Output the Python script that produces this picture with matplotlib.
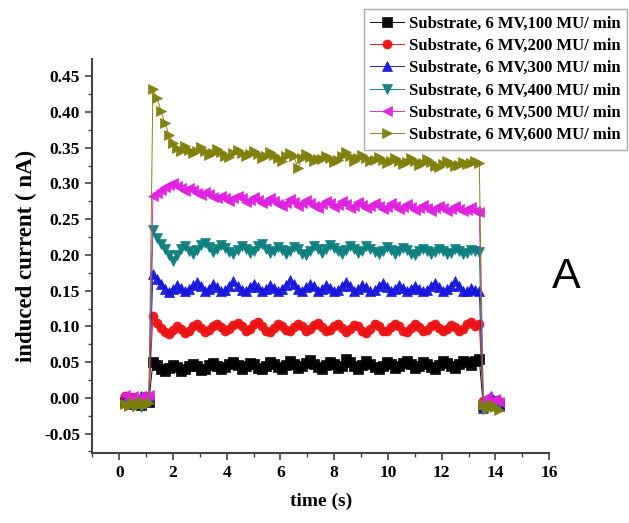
import numpy as np
import matplotlib
matplotlib.use("Agg")
import matplotlib.pyplot as plt
from matplotlib.ticker import MultipleLocator

plt.rcParams['font.family'] = ['Liberation Serif', 'DejaVu Serif']
plt.rcParams['font.weight'] = 'bold'

# sampling times (s): before beam-on, beam-on plateau, after beam-off
t_pre = [0.2, 0.35, 0.5, 0.65, 0.8, 0.95, 1.1]
t_on = np.round(1.25 + 0.15 * np.arange(82), 2)
t_post = [13.55, 13.7, 13.85, 14.0, 14.15]

labels = ["Substrate, 6 MV,100 MU/ min", "Substrate, 6 MV,200 MU/ min",
          "Substrate, 6 MV,300 MU/ min", "Substrate, 6 MV,400 MU/ min",
          "Substrate, 6 MV,500 MU/ min", "Substrate, 6 MV,600 MU/ min"]

# induced current (nA)
pre_100 = [-0.006, -0.002, -0.008, -0.004, -0.010, -0.003, -0.006]
on_100 = [0.050, 0.046, 0.040, 0.037, 0.042, 0.046, 0.043, 0.038, 0.040, 0.045,
          0.048, 0.044, 0.039, 0.041, 0.046, 0.049, 0.045, 0.040, 0.043, 0.048,
          0.050, 0.046, 0.041, 0.044, 0.049, 0.047, 0.042, 0.040, 0.045, 0.050,
          0.048, 0.043, 0.041, 0.046, 0.051, 0.047, 0.042, 0.044, 0.049, 0.053,
          0.048, 0.043, 0.041, 0.046, 0.050, 0.047, 0.042, 0.045, 0.055, 0.050,
          0.044, 0.041, 0.046, 0.051, 0.048, 0.043, 0.040, 0.045, 0.050, 0.047,
          0.042, 0.044, 0.049, 0.052, 0.047, 0.042, 0.045, 0.050, 0.048, 0.043,
          0.041, 0.046, 0.051, 0.049, 0.044, 0.042, 0.047, 0.052, 0.050, 0.046,
          0.051, 0.054]
post_100 = [-0.012, -0.006, -0.009, -0.004, -0.010]

pre_200 = [0.002, -0.004, 0.001, -0.006, -0.002, 0.003, -0.003]
on_200 = [0.115, 0.105, 0.098, 0.092, 0.090, 0.095, 0.100, 0.097, 0.091, 0.094,
          0.100, 0.103, 0.098, 0.092, 0.095, 0.101, 0.104, 0.099, 0.093, 0.096,
          0.102, 0.105, 0.100, 0.094, 0.097, 0.103, 0.106, 0.100, 0.094, 0.092,
          0.098, 0.104, 0.101, 0.095, 0.093, 0.099, 0.104, 0.100, 0.094, 0.096,
          0.102, 0.105, 0.099, 0.093, 0.095, 0.101, 0.104, 0.098, 0.092, 0.096,
          0.102, 0.100, 0.094, 0.091, 0.097, 0.103, 0.100, 0.094, 0.093, 0.099,
          0.104, 0.100, 0.094, 0.092, 0.098, 0.103, 0.099, 0.093, 0.095, 0.101,
          0.104, 0.098, 0.093, 0.096, 0.102, 0.099, 0.094, 0.097, 0.103, 0.106,
          0.101, 0.104]
post_200 = [-0.005, -0.010, -0.002, -0.008, -0.004]

pre_300 = [-0.003, 0.001, -0.007, -0.002, 0.002, -0.005, -0.001]
on_300 = [0.173, 0.166, 0.160, 0.152, 0.148, 0.153, 0.158, 0.154, 0.149, 0.152,
          0.158, 0.162, 0.156, 0.150, 0.153, 0.159, 0.155, 0.149, 0.151, 0.157,
          0.163, 0.157, 0.151, 0.149, 0.155, 0.160, 0.155, 0.150, 0.153, 0.158,
          0.154, 0.149, 0.152, 0.158, 0.165, 0.159, 0.152, 0.150, 0.155, 0.160,
          0.156, 0.150, 0.153, 0.158, 0.154, 0.149, 0.151, 0.157, 0.162, 0.156,
          0.150, 0.152, 0.158, 0.155, 0.149, 0.151, 0.157, 0.161, 0.155, 0.150,
          0.153, 0.158, 0.154, 0.149, 0.152, 0.157, 0.153, 0.149, 0.151, 0.156,
          0.161, 0.155, 0.150, 0.152, 0.157, 0.163, 0.157, 0.150, 0.149, 0.154,
          0.151, 0.150]
post_300 = [-0.014, -0.008, 0.002, -0.006, -0.012]

pre_400 = [-0.010, -0.005, -0.012, -0.007, -0.013, -0.008, -0.004]
on_400 = [0.235, 0.224, 0.215, 0.208, 0.200, 0.192, 0.200, 0.208, 0.212, 0.206,
          0.201, 0.207, 0.214, 0.217, 0.211, 0.204, 0.208, 0.214, 0.210, 0.204,
          0.201, 0.207, 0.213, 0.209, 0.203, 0.206, 0.212, 0.215, 0.209, 0.203,
          0.206, 0.211, 0.207, 0.202, 0.205, 0.211, 0.208, 0.202, 0.200, 0.206,
          0.212, 0.208, 0.203, 0.208, 0.214, 0.210, 0.205, 0.202, 0.207, 0.213,
          0.208, 0.203, 0.206, 0.212, 0.209, 0.204, 0.201, 0.206, 0.211, 0.207,
          0.202, 0.205, 0.210, 0.207, 0.202, 0.200, 0.205, 0.209, 0.206, 0.201,
          0.204, 0.209, 0.205, 0.201, 0.203, 0.208, 0.206, 0.201, 0.203, 0.207,
          0.205, 0.204]
post_400 = [-0.016, -0.011, -0.006, -0.013, -0.009]

pre_500 = [0.004, -0.001, 0.003, -0.003, 0.002, -0.002, 0.004]
on_500 = [0.283, 0.286, 0.291, 0.295, 0.298, 0.300, 0.297, 0.293, 0.290, 0.294,
          0.291, 0.287, 0.284, 0.288, 0.285, 0.281, 0.279, 0.283, 0.280, 0.276,
          0.279, 0.283, 0.279, 0.274, 0.277, 0.281, 0.277, 0.272, 0.275, 0.280,
          0.276, 0.271, 0.268, 0.273, 0.278, 0.274, 0.269, 0.272, 0.277, 0.273,
          0.268, 0.266, 0.271, 0.276, 0.272, 0.267, 0.270, 0.275, 0.271, 0.266,
          0.269, 0.274, 0.270, 0.265, 0.268, 0.273, 0.269, 0.264, 0.267, 0.272,
          0.268, 0.264, 0.267, 0.271, 0.267, 0.263, 0.266, 0.270, 0.266, 0.262,
          0.265, 0.269, 0.265, 0.261, 0.264, 0.268, 0.264, 0.261, 0.263, 0.267,
          0.262, 0.260]
post_500 = [-0.004, 0.001, -0.007, -0.002, -0.006]

pre_600 = [-0.008, -0.012, -0.006, -0.011, -0.005, -0.010, -0.007]
on_600 = [0.432, 0.420, 0.402, 0.384, 0.368, 0.357, 0.350, 0.346, 0.352, 0.347,
          0.342, 0.346, 0.351, 0.345, 0.340, 0.343, 0.348, 0.344, 0.339, 0.337,
          0.342, 0.347, 0.343, 0.338, 0.341, 0.346, 0.341, 0.336, 0.339, 0.344,
          0.340, 0.335, 0.332, 0.338, 0.343, 0.338, 0.321, 0.336, 0.341, 0.337,
          0.331, 0.334, 0.334, 0.339, 0.335, 0.330, 0.333, 0.338, 0.344, 0.338,
          0.332, 0.335, 0.340, 0.336, 0.331, 0.333, 0.337, 0.333, 0.328, 0.331,
          0.336, 0.332, 0.327, 0.330, 0.335, 0.331, 0.326, 0.329, 0.334, 0.330,
          0.325, 0.323, 0.327, 0.331, 0.328, 0.324, 0.326, 0.330, 0.327, 0.329,
          0.331, 0.329]
post_600 = [-0.010, -0.015, -0.008, -0.013, -0.017]

series = [(pre_100, on_100, post_100), (pre_200, on_200, post_200),
          (pre_300, on_300, post_300), (pre_400, on_400, post_400),
          (pre_500, on_500, post_500), (pre_600, on_600, post_600)]
colors = ['#000000', '#ee1111', '#1515dd', '#0b7f7f', '#e020e0', '#7f7f0a']
markers = ['s', 'o', '^', 'v', '<', '>']

fig = plt.figure(figsize=(6.29, 5.23), dpi=100)
ax = fig.add_axes([0.147, 0.134, 0.726, 0.753])

t_all = np.concatenate([t_pre, t_on, t_post])
for (pre, on, post), lab, c, m in zip(series, labels, colors, markers):
    y = np.concatenate([pre, on, post])
    ax.plot(t_all, y, color=c, lw=0.7, marker=m, ms=6.5, mew=0.5,
            mec=c, mfc=c, label=lab, alpha=0.95)

ax.set_xlim(-1, 16)
ax.set_ylim(-0.077, 0.474)
ax.xaxis.set_major_locator(MultipleLocator(2))
ax.xaxis.set_minor_locator(MultipleLocator(1))
ax.yaxis.set_major_locator(MultipleLocator(0.05))
ax.yaxis.set_minor_locator(MultipleLocator(0.025))
ax.yaxis.set_major_formatter(plt.FuncFormatter(lambda v, p: f"{v:.2f}"))

for side in ['top', 'right']:
    ax.spines[side].set_visible(False)
for side in ['left', 'bottom']:
    ax.spines[side].set_linewidth(1.5)
    ax.spines[side].set_color('#444444')
ax.tick_params(which='major', direction='out', length=5, width=1.2,
               color='#444444', labelsize=12.5, pad=4)
ax.tick_params(which='minor', direction='out', length=3, width=1.0,
               color='#444444')

ax.set_xlabel("time (s)", fontsize=14, fontweight='bold', labelpad=8)
ax.set_ylabel("induced current ( nA)", fontsize=16.5, fontweight='bold',
              labelpad=5)

leg = fig.legend(loc='upper right', bbox_to_anchor=(0.997, 0.983),
                 fontsize=12, frameon=True, fancybox=False,
                 handlelength=2.0, handletextpad=0.3, labelspacing=0.38,
                 borderpad=0.4, borderaxespad=0.0)
leg.get_frame().set_edgecolor('#999999')
leg.get_frame().set_linewidth(1.0)

fig.text(0.901, 0.47, "A", fontsize=31, family='Liberation Sans',
         fontweight='normal', ha='center', va='center')

fig.savefig("out.png", dpi=100)
